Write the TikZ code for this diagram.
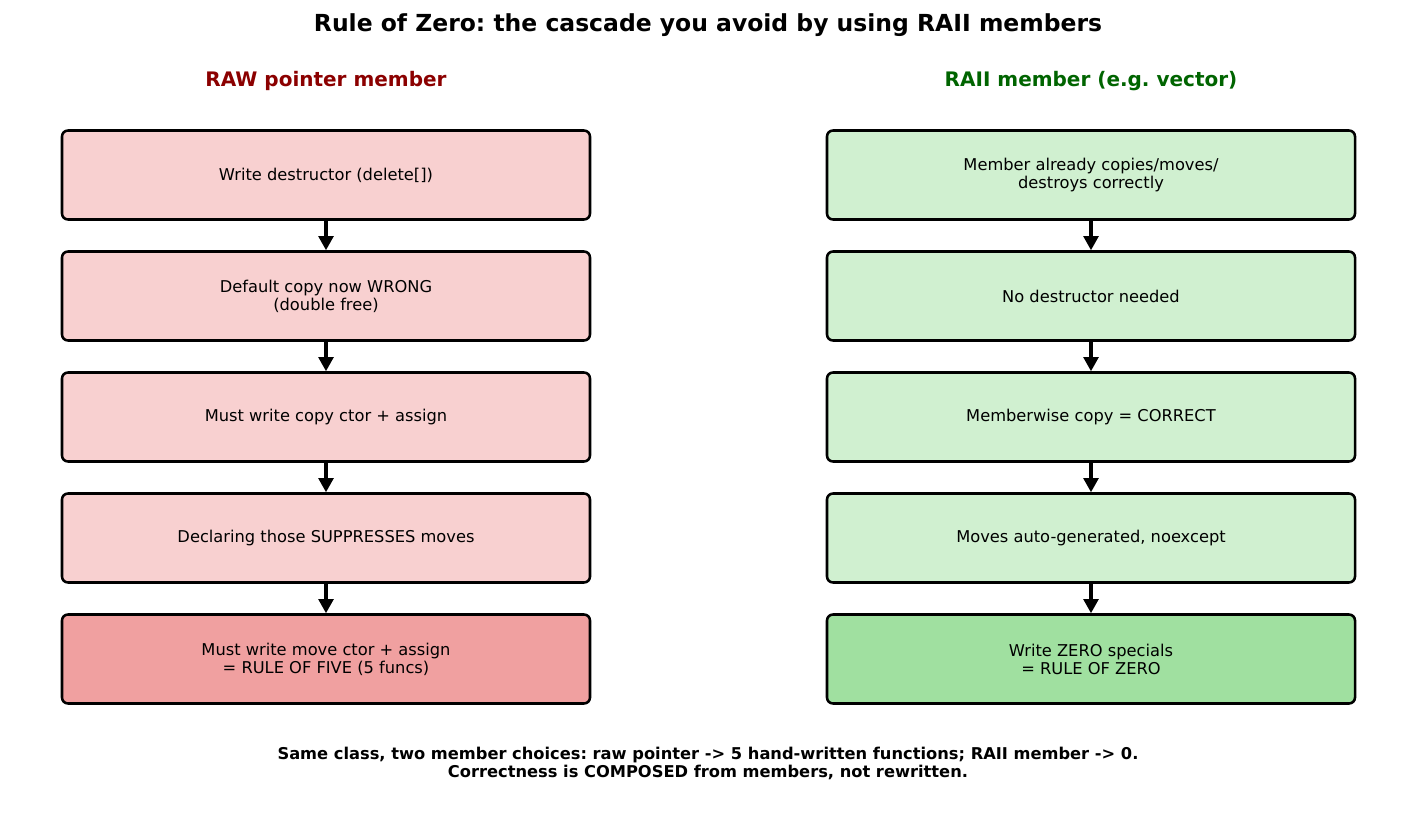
\documentclass[tikz,border=0pt]{standalone}
\usepackage{fontspec}
\setmainfont{DejaVu Sans}
\usetikzlibrary{arrows.meta}
\frenchspacing
\definecolor{lred}{HTML}{F8D0D0}
\definecolor{dred}{HTML}{F0A0A0}
\definecolor{lgreen}{HTML}{D0F0D0}
\definecolor{dgreen}{HTML}{A0E0A0}
\definecolor{hred}{HTML}{8B0000}
\definecolor{hgreen}{HTML}{006400}
\tikzset{
  px/.style={x=0.75pt,y=-0.75pt},
  stepbox/.style={draw=black, line width=1.9pt, rounded corners=4.5pt, minimum width=396pt, minimum height=66.75pt, align=center, font=\fontsize{12.2}{13.6}\selectfont, inner sep=0pt},
  flow/.style={line width=2.3pt, -{Triangle[length=10.5pt,width=11pt]}},
  hdr/.style={font=\fontsize{15}{18}\selectfont\bfseries},
}
\begin{document}
\begin{tikzpicture}[px]
\useasboundingbox (0,0) rectangle (1417,831);
\node[font=\fontsize{17.6}{21}\selectfont\bfseries] (title) at (708,25) {Rule of Zero: the cascade you avoid by using RAII members};
\node[hdr, text=hred] (hl) at (326,81) {RAW pointer member};
\node[hdr, text=hgreen] (hr) at (1091,81) {RAII member (e.g. vector)};

\node[stepbox, fill=lred] (l1) at (326,175) {Write destructor (delete[])};
\node[stepbox, fill=lred] (l2) at (326,296) {Default copy now WRONG\\(double free)};
\node[stepbox, fill=lred] (l3) at (326,417) {Must write copy ctor + assign};
\node[stepbox, fill=lred] (l4) at (326,538) {Declaring those SUPPRESSES moves};
\node[stepbox, fill=dred] (l5) at (326,659) {Must write move ctor + assign\\= RULE OF FIVE (5 funcs)};

\node[stepbox, fill=lgreen] (r1) at (1091,175) {Member already copies/moves/\\destroys correctly};
\node[stepbox, fill=lgreen] (r2) at (1091,296) {No destructor needed};
\node[stepbox, fill=lgreen] (r3) at (1091,417) {Memberwise copy = CORRECT};
\node[stepbox, fill=lgreen] (r4) at (1091,538) {Moves auto-generated, noexcept};
\node[stepbox, fill=dgreen] (r5) at (1091,659) {Write ZERO specials\\= RULE OF ZERO};

\foreach \s in {l,r}{
  \draw[flow] ([yshift=2pt]\s1.south) -- (\s2.north);
  \draw[flow] ([yshift=2pt]\s2.south) -- (\s3.north);
  \draw[flow] ([yshift=2pt]\s3.south) -- (\s4.north);
  \draw[flow] ([yshift=2pt]\s4.south) -- (\s5.north);
}

\node[align=center, font=\fontsize{12.2}{13.5}\selectfont\bfseries] (foot) at (708,763) {Same class, two member choices: raw pointer -> 5 hand-written functions; RAII member -> 0.\\Correctness is COMPOSED from members, not rewritten.};
\end{tikzpicture}
\end{document}
